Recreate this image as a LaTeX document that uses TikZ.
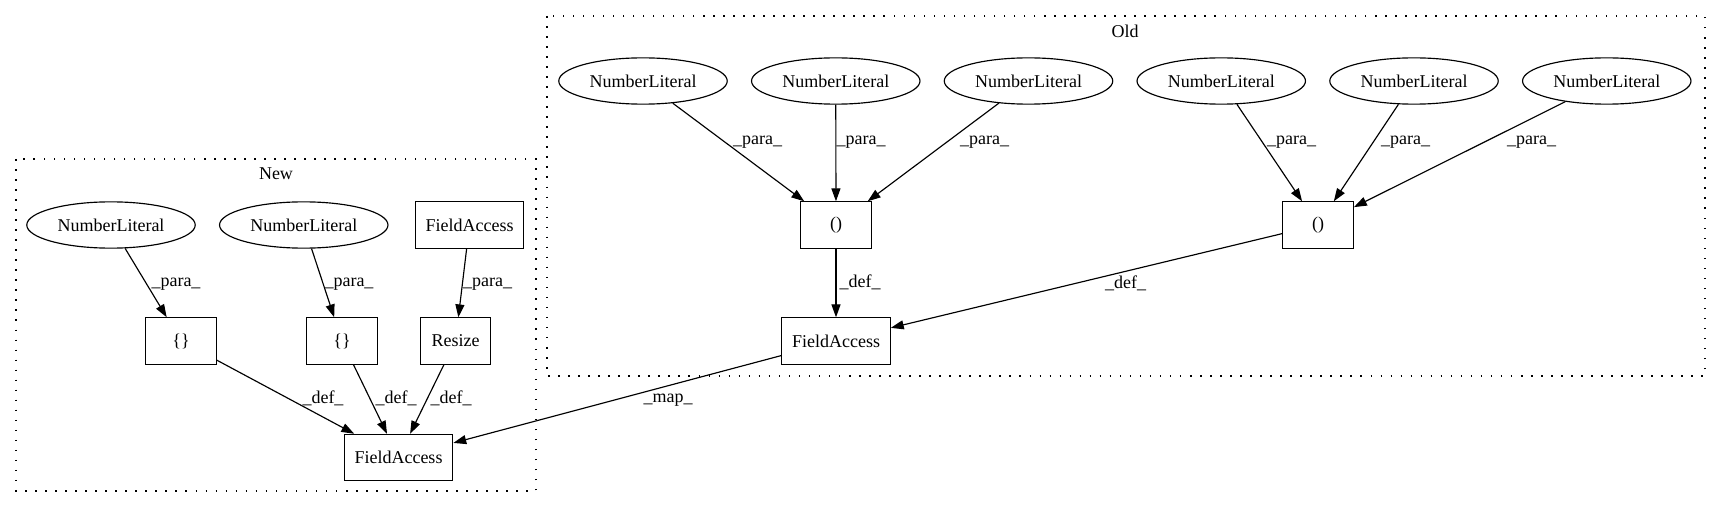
\documentclass[tikz,border=0pt]{standalone}
\usepackage{fontspec}
\setmainfont{Liberation Serif}
\usetikzlibrary{positioning,shapes.geometric,arrows.meta}

\begin{document}
\begin{tikzpicture}[
                x=0.7777pt, y=-0.7777pt,
                node distance=18pt,
                every node/.append style={font=\fontsize{14pt}{16pt}\selectfont},
                lit/.style={ellipse,draw,line width=0.9pt,minimum width=131pt,minimum height=36pt,inner sep=0pt},
                box/.style={rectangle,draw,line width=0.9pt,minimum width=55pt,minimum height=36pt,inner xsep=8pt},
                edge/.style={-{Triangle[length=10pt,width=7pt]},line width=0.9pt},
                cluster/.style={line width=0.9pt,dash pattern=on 1.2pt off 6.6pt},
                lbl/.style={inner sep=0pt}
            ]
                \fill[white] (0,0) rectangle (1721,508);
                \useasboundingbox (0,0) rectangle (1721,508);
                % clusters
                \draw[cluster] (547,16) rectangle (1705,376);
                \draw[cluster] (16,159) rectangle (536,491);
                \node[lbl] (old) at (1125,31)  {Old};
                \node[lbl] (new) at (276,174)  {New};
                % Old
                \node[lit] (nl3) at (643,81)             {NumberLiteral};
                \node[lit] (nl4) [right=of nl3]          {NumberLiteral};
                \node[lit] (nl5) [right=of nl4]          {NumberLiteral};
                \node[lit] (nl6) [right=of nl5]          {NumberLiteral};
                \node[lit] (nl7) [right=of nl6]          {NumberLiteral};
                \node[lit] (nl8) [right=of nl7]          {NumberLiteral};
                \node[box] (tup1) at (836,225)           {()};
                \node[box] (tup2) at (1318,225)          {()};
                \node[box] (fa1)  at (836,341)           {FieldAccess};
                % New
                \node[lit] (nl1) at (111,225)            {NumberLiteral};
                \node[lit] (nl2) [right=of nl1]          {NumberLiteral};
                \node[box] (fa2)  at (469.5,225)         {FieldAccess};
                \node[box] (set1) at (181,341)           {\{\}};
                \node[box] (set2) at (342,341)           {\{\}};
                \node[box] (rsz)  at (455.5,341)         {Resize};
                \node[box] (fa3)  at (398.5,457.5)       {FieldAccess};
                % edges
                \draw[edge] (nl3) -- (tup1);
                \draw[edge] (nl4) -- (tup1);
                \draw[edge] (nl5) -- (tup1);
                \draw[edge] (nl6) -- (tup2);
                \draw[edge] (nl7) -- (tup2);
                \draw[edge] (nl8) -- (tup2);
                \draw[edge] (tup1) -- (fa1);
                \draw[edge] (tup2) -- (fa1);
                \draw[edge] (nl1) -- (set1);
                \draw[edge] (nl2) -- (set2);
                \draw[edge] (fa2) -- (rsz);
                \draw[edge] (set1) -- (fa3);
                \draw[edge] (set2) -- (fa3);
                \draw[edge] (rsz) -- (fa3);
                \draw[edge] (fa1) -- (fa3);
                % edge labels
                \node[lbl] (p3) at (757.5,142)  {\_para\_};
                \node[lbl] (p4) at (861,142)    {\_para\_};
                \node[lbl] (p5) at (984.5,142)  {\_para\_};
                \node[lbl] (p6) at (1291.5,142) {\_para\_};
                \node[lbl] (p7) at (1405.5,142) {\_para\_};
                \node[lbl] (p8) at (1531.5,142) {\_para\_};
                \node[lbl] (d1) at (860,282)    {\_def\_};
                \node[lbl] (d2) at (1125.5,283) {\_def\_};
                \node[lbl] (m1) at (668,400)    {\_map\_};
                \node[lbl] (p1) at (176,284)    {\_para\_};
                \node[lbl] (p2) at (349,284)    {\_para\_};
                \node[lbl] (pr) at (487.5,284)  {\_para\_};
                \node[lbl] (d3) at (323,398)    {\_def\_};
                \node[lbl] (d4) at (396,398)    {\_def\_};
                \node[lbl] (d5) at (451,398)    {\_def\_};
            \end{tikzpicture}
\end{document}
